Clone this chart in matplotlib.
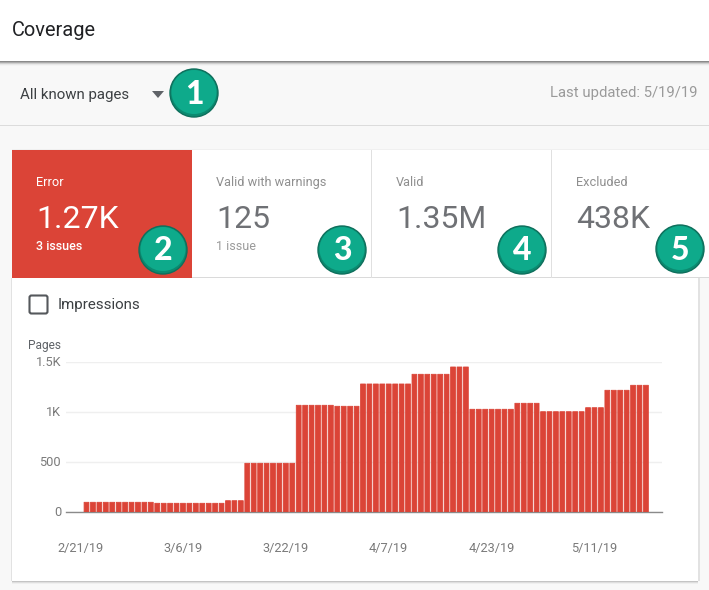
import matplotlib
matplotlib.use("Agg")
import matplotlib.pyplot as plt
from matplotlib.patches import Rectangle, Ellipse, FancyBboxPatch, Polygon
from matplotlib.transforms import ScaledTranslation
import numpy as np

plt.rcParams['font.family'] = ['Roboto', 'DejaVu Sans']

# ---- data ----
group_values = [100, 90, 116, 490, 1070, 1060, 1283, 1380, 1453, 1030, 1090, 1006, 1046, 1220, 1270]
group_days = [11, 11, 3, 8, 6, 4, 8, 6, 3, 7, 4, 7, 3, 4, 3]
pages = np.repeat(group_values, group_days)
y_ticks = [0, 500, 1000, 1500]
y_labels = ['0', '500', '1K', '1.5K']
x_labels = ['2/21/19', '3/6/19', '3/22/19', '4/7/19', '4/23/19', '5/11/19']
x_label_days = [-1.0, 15.0, 31.0, 47.0, 63.0, 79.0]
cards = [('Error', '1.27K', '3 issues'), ('Valid with warnings', '125', '1 issue'),
         ('Valid', '1.35M', ''), ('Excluded', '438K', '')]
badges = ['1', '2', '3', '4', '5']

W, H = 709, 590
fig = plt.figure(figsize=(W/100, H/100), dpi=100, facecolor='#f8f8f8')
bg = fig.add_axes([0, 0, 1, 1])
bg.set_xlim(0, W); bg.set_ylim(H, 0); bg.axis('off')

def rect(x0, y0, x1, y1, c, z=1, **kw):
    bg.add_patch(Rectangle((x0, y0), x1-x0, y1-y0, fc=c, ec='none', zorder=z, **kw))

# header with shadow
for i, c in enumerate(['#8a8a8a', '#ababab', '#cfcfcf', '#e8e8e8', '#f3f3f3']):
    rect(0, 61+i, W, 62+i, c)
rect(0, 0, W, 61, 'white', 2)
bg.text(12, 29, 'Coverage', fontsize=14.4, color='#202124', va='center_baseline', ha='left', zorder=5)

# selector row
bg.text(20, 93.5, 'All known pages', fontsize=10.8, color='#3c4043', va='center_baseline', zorder=5)
bg.add_patch(Polygon([(152, 91), (164, 91), (158, 98)], fc='#5f6368', ec='none', zorder=5))
bg.text(697, 92, 'Last updated: 5/19/19', fontsize=10.7, color='#9a9a9a', va='center_baseline', ha='right', zorder=5)
rect(0, 125, W, 126, '#dcdcdc')

# cards
for i in range(3):
    rect(12, 581+i, 698, 582+i, ['#c4c4c4', '#dedede', '#efefef'][i])
rect(11, 278, 12, 581, '#e2e2e2'); rect(698, 278, 700, 581, '#e2e2e2')
rect(12, 277, 698, 581, 'white', 2)
rect(12, 149, W, 150, '#f0f0f0')
rect(192, 150, W, 278, 'white', 2)
rect(12, 150, 192, 278, '#db4437', 3)
rect(192, 277, W, 278, '#dadada', 3)
for x in [371, 551]:
    rect(x, 150, x+1, 278, '#e0e0e0', 3)
for i, (name, val, sub) in enumerate(cards):
    x = 36 + 180*i
    col1, col2, col3 = ('white', 'white', 'white') if i == 0 else ('#8f8f8f', '#6f7175', '#9a9a9a')
    bg.text(x, 181, name, fontsize=9.2, color=col1, va='center_baseline', zorder=5)
    bg.text(x, 216.5, val, fontsize=23, color=col2, va='center_baseline', zorder=5)
    if sub:
        bg.text(x, 244.5, sub, fontsize=9.0, color=col3, va='center_baseline', zorder=5, fontweight='medium' if i == 0 else 'normal')

# badges
for label, (cx, cy) in zip(badges, [(194, 93), (163, 250), (342, 250), (522, 250), (680, 249)]):
    bg.add_patch(Ellipse((cx, cy), 48, 48, fc='#0b8a70', ec='#0e6f5c', lw=1, zorder=6))
    bg.add_patch(Ellipse((cx, cy-1), 45, 44, fc='#0eaa8b', ec='none', zorder=6))
    bg.text(cx, cy+1, label, fontsize=23, family='Lato', fontweight='black', color='white',
            ha='center', va='center', zorder=7)

# checkbox
bg.add_patch(FancyBboxPatch((29.5, 295.5), 18, 18, boxstyle='round,pad=0,rounding_size=2', fc='white', ec='#55585c', lw=1.5, zorder=5))
bg.text(58, 303.5, 'Impressions', fontsize=10.9, color='#3c4043', va='center_baseline', zorder=5)
bg.text(28, 344, 'Pages', fontsize=8.6, color='#5f6368', va='center_baseline', zorder=5)

# chart axes: x 66..662 px, y 512.3 (0) .. 362.3 (1500)
x0, x1, ytop, ybot = 66, 662, 362.3, 512.3
ax = fig.add_axes([x0/W, 1-ybot/H, (x1-x0)/W, (ybot-ytop)/H], facecolor='none', zorder=3)
pitch = 6.43
days = np.arange(len(pages))
ax.set_xlim((x0-83.3)/pitch-0.5, (x1-83.3)/pitch-0.5)
ax.set_ylim(0, 1500)
ax.bar(days, pages, width=0.75, color='#db4437', edgecolor='#db4437', linewidth=0.6,
       joinstyle='round', snap=False, zorder=3)
ax.set_yticks(y_ticks, y_labels)
ax.set_xticks(x_label_days, x_labels)
ax.tick_params(axis='both', length=0, labelsize=9.2, labelcolor='#7a7a7a')
ax.tick_params(axis='x', pad=21.5)
ax.tick_params(axis='y', pad=3.5)
up = ScaledTranslation(0, 1/100, fig.dpi_scale_trans)
for lab in ax.get_yticklabels():
    lab.set_transform(lab.get_transform() + up)
ax.grid(axis='y', color='#efefef', lw=1, zorder=0)
for s in ['top', 'left', 'right']:
    ax.spines[s].set_visible(False)
ax.spines['bottom'].set_color('#8a8a8a')
ax.spines['bottom'].set_linewidth(1)
ax.set_axisbelow(True)

fig.savefig('out.png', dpi=100, facecolor=fig.get_facecolor())
